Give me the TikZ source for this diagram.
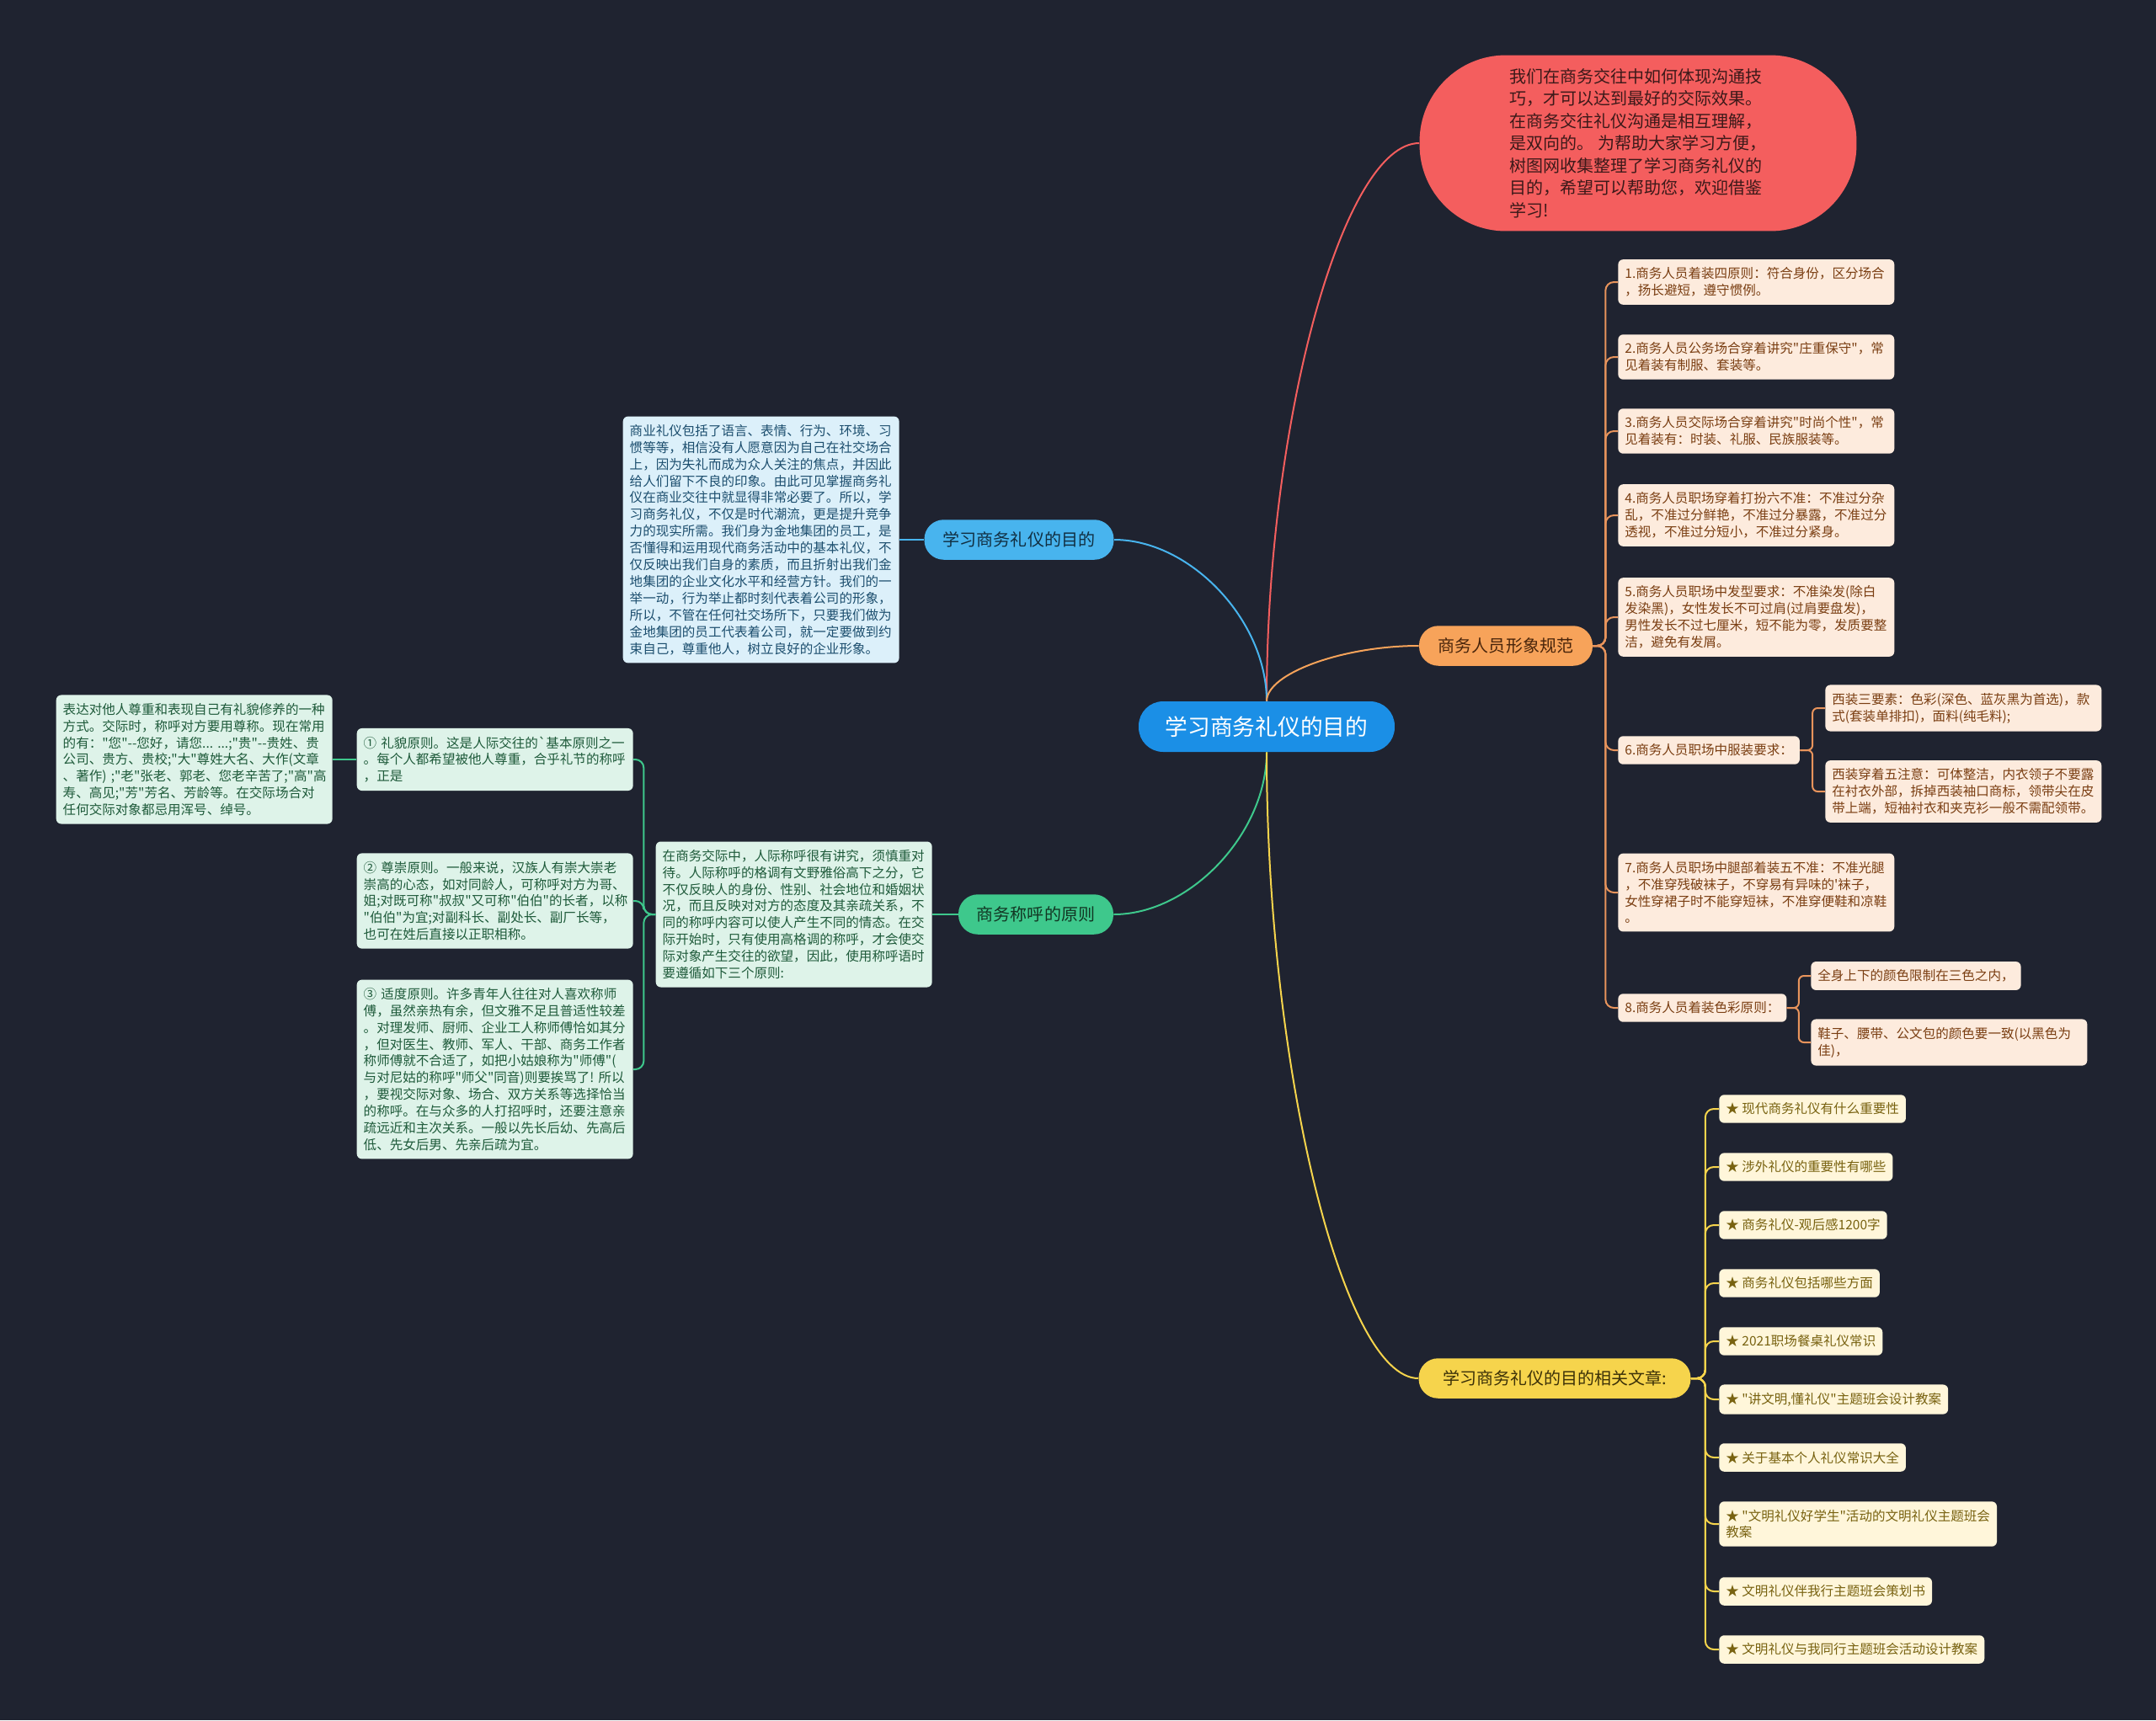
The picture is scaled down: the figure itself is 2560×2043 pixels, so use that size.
\documentclass[tikz,border=0pt]{standalone}
\usepackage{fontspec}
\setmainfont{Noto Sans CJK SC}[Ligatures=TeXOff]
\usetikzlibrary{calc}
\definecolor{BgDark}{RGB}{31,35,48}
\definecolor{RootBlue}{RGB}{27,143,230}
\definecolor{IntroRed}{RGB}{244,94,94}
\definecolor{InkRed}{RGB}{60,25,25}
\definecolor{TopicBlue}{RGB}{72,180,238}
\definecolor{TopicGreen}{RGB}{62,200,140}
\definecolor{TopicOrange}{RGB}{247,163,90}
\definecolor{TopicYellow}{RGB}{246,212,76}
\definecolor{NoteBlue}{RGB}{220,240,250}
\definecolor{InkBlue}{RGB}{28,78,110}
\definecolor{NoteGreen}{RGB}{222,243,233}
\definecolor{InkGreen}{RGB}{30,90,58}
\definecolor{NoteOrange}{RGB}{253,235,221}
\definecolor{InkOrange}{RGB}{122,62,18}
\definecolor{NoteYellow}{RGB}{255,246,218}
\definecolor{InkYellow}{RGB}{120,98,16}
\definecolor{OrangeLine}{RGB}{232,148,92}

\begin{document}
\begin{tikzpicture}[x=0.02cm,y=-0.02cm,
    rootnode/.style={fill=RootBlue,text=white,rounded corners=0.58cm,
                     minimum width=6.08cm,minimum height=1.2cm,
                     font=\fontsize{15.2}{18}\selectfont},
    topic/.style={rounded corners=0.46cm,minimum height=0.95cm,
                  font=\fontsize{11.4}{13.7}\selectfont},
    notebox/.style={rounded corners=0.12cm,inner xsep=0.16cm,inner ysep=0.19cm,
                    align=left,font=\fontsize{8.85}{11.34}\selectfont},
    widebox/.style={notebox,text width=6.24cm},
    bluebox/.style={widebox,fill=NoteBlue,text=InkBlue},
    greenbox/.style={widebox,fill=NoteGreen,text=InkGreen},
    orangebox/.style={notebox,fill=NoteOrange,text=InkOrange},
    yellowbox/.style={notebox,fill=NoteYellow,text=InkYellow},
    link/.style={line width=0.04cm}
  ]
  \useasboundingbox (0,0) rectangle (2560,2043);
  \fill[BgDark] (0,0) rectangle (2560,2043);

  % centre and main topics
  \node[rootnode] (root) at (1504,863) {学习商务礼仪的目的};
  \node[fill=IntroRed,text=InkRed,rounded corners=2.05cm,minimum width=10.38cm,
        minimum height=4.18cm,align=left,font=\fontsize{11.4}{15.1}\selectfont]
        (intro) at (1945,170)
        {我们在商务交往中如何体现沟通技\\
         巧，才可以达到最好的交际效果。\\
         在商务交往礼仪沟通是相互理解，\\
         是双向的。 为帮助大家学习方便，\\
         树图网收集整理了学习商务礼仪的\\
         目的，希望可以帮助您，欢迎借鉴\\
         学习!};
  \node[topic,fill=TopicBlue,text=InkBlue!60!black,minimum width=4.5cm]
        (b1) at (1210,641) {学习商务礼仪的目的};
  \node[topic,fill=TopicGreen,text=InkGreen!60!black,minimum width=3.68cm]
        (b2) at (1230,1086) {商务称呼的原则};
  \node[topic,fill=TopicOrange,text=InkOrange!60!black,minimum width=4.12cm]
        (b3) at (1788,767) {商务人员形象规范};
  \node[topic,fill=TopicYellow,text=InkYellow!50!black,minimum width=6.46cm]
        (b4) at (1846,1637) {学习商务礼仪的目的相关文章:};

  \draw[link,IntroRed] (root.north) .. controls ($(root.north)!0.5!(root.north |- intro.west)$)
        and ($(intro.west)!0.5!(root.north |- intro.west)$) .. (intro.west);
  \draw[link,TopicBlue] (root.north) .. controls ($(root.north)!0.5!(root.north |- b1.east)$)
        and ($(b1.east)!0.5!(root.north |- b1.east)$) .. (b1.east);
  \draw[link,TopicOrange] (root.north) .. controls ($(root.north)!0.5!(root.north |- b3.west)$)
        and ($(b3.west)!0.5!(root.north |- b3.west)$) .. (b3.west);
  \draw[link,TopicGreen] (root.south) .. controls ($(root.south)!0.5!(root.south |- b2.east)$)
        and ($(b2.east)!0.5!(root.south |- b2.east)$) .. (b2.east);
  \draw[link,TopicYellow] (root.south) .. controls ($(root.south)!0.5!(root.south |- b4.west)$)
        and ($(b4.west)!0.5!(root.south |- b4.west)$) .. (b4.west);

  % blue branch
  \node[bluebox,anchor=east] (purpose) at (1068,641)
        {商业礼仪包括了语言、表情、行为、环境、习\\
         惯等等，相信没有人愿意因为自己在社交场合\\
         上，因为失礼而成为众人关注的焦点，并因此\\
         给人们留下不良的印象。由此可见掌握商务礼\\
         仪在商业交往中就显得非常必要了。所以，学\\
         习商务礼仪，不仅是时代潮流，更是提升竞争\\
         力的现实所需。我们身为金地集团的员工，是\\
         否懂得和运用现代商务活动中的基本礼仪，不\\
         仅反映出我们自身的素质，而且折射出我们金\\
         地集团的企业文化水平和经营方针。我们的一\\
         举一动，行为举止都时刻代表着公司的形象，\\
         所以，不管在任何社交场所下，只要我们做为\\
         金地集团的员工代表着公司，就一定要做到约\\
         束自己，尊重他人，树立良好的企业形象。};
  \draw[link,TopicBlue] (b1.west) -- (purpose.east);

  % green branch
  \node[greenbox,anchor=east] (address) at (1107,1086)
        {在商务交际中，人际称呼很有讲究，须慎重对\\
         待。人际称呼的格调有文野雅俗高下之分，它\\
         不仅反映人的身份、性别、社会地位和婚姻状\\
         况，而且反映对对方的态度及其亲疏关系，不\\
         同的称呼内容可以使人产生不同的情态。在交\\
         际开始时，只有使用高格调的称呼，才会使交\\
         际对象产生交往的欲望，因此，使用称呼语时\\
         要遵循如下三个原则:};
  \node[greenbox,anchor=east] (polite) at (752,902)
        {①~礼貌原则。这是人际交往的`基本原则之一\\
         。每个人都希望被他人尊重，合乎礼节的称呼\\
         ，正是};
  \node[greenbox,anchor=east] (respect) at (752,1070)
        {②~尊崇原则。一般来说，汉族人有崇大崇老\\
         崇高的心态，如对同龄人，可称呼对方为哥、\\
         姐;对既可称"叔叔"又可称"伯伯"的长者，以称\\
         "伯伯"为宜;对副科长、副处长、副厂长等，\\
         也可在姓后直接以正职相称。};
  \node[greenbox,anchor=east] (proper) at (752,1270)
        {③~适度原则。许多青年人往往对人喜欢称师\\
         傅，虽然亲热有余，但文雅不足且普适性较差\\
         。对理发师、厨师、企业工人称师傅恰如其分\\
         ，但对医生、教师、军人、干部、商务工作者\\
         称师傅就不合适了，如把小姑娘称为"师傅"(\\
         与对尼姑的称呼"师父"同音)则要挨骂了!~所以\\
         ，要视交际对象、场合、双方关系等选择恰当\\
         的称呼。在与众多的人打招呼时，还要注意亲\\
         疏远近和主次关系。一般以先长后幼、先高后\\
         低、先女后男、先亲后疏为宜。};
  \node[greenbox,anchor=east] (honor) at (395,902)
        {表达对他人尊重和表现自己有礼貌修养的一种\\
         方式。交际时，称呼对方要用尊称。现在常用\\
         的有："您"--您好，请您...~...;"贵"--贵姓、贵\\
         公司、贵方、贵校;"大"尊姓大名、大作(文章\\
         、著作)~;"老"张老、郭老、您老辛苦了;"高"高\\
         寿、高见;"芳"芳名、芳龄等。在交际场合对\\
         任何交际对象都忌用浑号、绰号。};
  \draw[link,TopicGreen] (b2.west) -- (address.east);
  \draw[link,TopicGreen,rounded corners=0.2cm] (address.west) -- ++(-14,0) |- (polite.east);
  \draw[link,TopicGreen,rounded corners=0.2cm] (address.west) -- ++(-14,0) |- (respect.east);
  \draw[link,TopicGreen,rounded corners=0.2cm] (address.west) -- ++(-14,0) |- (proper.east);
  \draw[link,TopicGreen] (polite.west) -- (honor.east);

  % orange branch
  \node[orangebox,text width=6.24cm,anchor=west] (o1) at (1921,335)
        {1.商务人员着装四原则：符合身份，区分场合\\
         ，扬长避短，遵守惯例。};
  \node[orangebox,text width=6.24cm,anchor=west] (o2) at (1921,424)
        {2.商务人员公务场合穿着讲究"庄重保守"，常\\
         见着装有制服、套装等。};
  \node[orangebox,text width=6.24cm,anchor=west] (o3) at (1921,512)
        {3.商务人员交际场合穿着讲究"时尚个性"，常\\
         见着装有：时装、礼服、民族服装等。};
  \node[orangebox,text width=6.24cm,anchor=west] (o4) at (1921,612)
        {4.商务人员职场穿着打扮六不准：不准过分杂\\
         乱，不准过分鲜艳，不准过分暴露，不准过分\\
         透视，不准过分短小，不准过分紧身。};
  \node[orangebox,text width=6.24cm,anchor=west] (o5) at (1921,733)
        {5.商务人员职场中发型要求：不准染发(除白\\
         发染黑)，女性发长不可过肩(过肩要盘发)，\\
         男性发长不过七厘米，短不能为零，发质要整\\
         洁，避免有发屑。};
  \node[orangebox,anchor=west] (o6) at (1921,891) {6.商务人员职场中服装要求：};
  \node[orangebox,text width=6.24cm,anchor=west] (o6a) at (2167,841)
        {西装三要素：色彩(深色、蓝灰黑为首选)，款\\
         式(套装单排扣)，面料(纯毛料);};
  \node[orangebox,text width=6.24cm,anchor=west] (o6b) at (2167,940)
        {西装穿着五注意：可体整洁，内衣领子不要露\\
         在衬衣外部，拆掉西装袖口商标，领带尖在皮\\
         带上端，短袖衬衣和夹克衫一般不需配领带。};
  \node[orangebox,text width=6.24cm,anchor=west] (o7) at (1921,1060)
        {7.商务人员职场中腿部着装五不准：不准光腿\\
         ，不准穿残破袜子，不穿易有异味的'袜子，\\
         女性穿裙子时不能穿短袜，不准穿便鞋和凉鞋\\
         。};
  \node[orangebox,anchor=west] (o8) at (1921,1197) {8.商务人员着装色彩原则：};
  \node[orangebox,anchor=west] (o8a) at (2150,1159) {全身上下的颜色限制在三色之内，};
  \node[orangebox,text width=6.24cm,anchor=west] (o8b) at (2150,1238)
        {鞋子、腰带、公文包的颜色要一致(以黑色为\\
         佳)，};
  \draw[link,OrangeLine,rounded corners=0.2cm] (b3.east) -- ++(15,0) |- (o1.west);
  \draw[link,OrangeLine,rounded corners=0.2cm] (b3.east) -- ++(15,0) |- (o2.west);
  \draw[link,OrangeLine,rounded corners=0.2cm] (b3.east) -- ++(15,0) |- (o3.west);
  \draw[link,OrangeLine,rounded corners=0.2cm] (b3.east) -- ++(15,0) |- (o4.west);
  \draw[link,OrangeLine,rounded corners=0.2cm] (b3.east) -- ++(15,0) |- (o5.west);
  \draw[link,OrangeLine,rounded corners=0.2cm] (b3.east) -- ++(15,0) |- (o6.west);
  \draw[link,OrangeLine,rounded corners=0.2cm] (b3.east) -- ++(15,0) |- (o7.west);
  \draw[link,OrangeLine,rounded corners=0.2cm] (b3.east) -- ++(15,0) |- (o8.west);
  \draw[link,OrangeLine,rounded corners=0.12cm] (o6.east) -- ($(o6.east)!0.5!(o6.east -| o6a.west)$) |- (o6a.west);
  \draw[link,OrangeLine,rounded corners=0.12cm] (o6.east) -- ($(o6.east)!0.5!(o6.east -| o6a.west)$) |- (o6b.west);
  \draw[link,OrangeLine,rounded corners=0.12cm] (o8.east) -- ($(o8.east)!0.5!(o8.east -| o8a.west)$) |- (o8a.west);
  \draw[link,OrangeLine,rounded corners=0.12cm] (o8.east) -- ($(o8.east)!0.5!(o8.east -| o8a.west)$) |- (o8b.west);

  % yellow branch
  \node[yellowbox,anchor=west] (y1) at (2041,1317) {★ 现代商务礼仪有什么重要性};
  \node[yellowbox,anchor=west] (y2) at (2041,1386) {★ 涉外礼仪的重要性有哪些};
  \node[yellowbox,anchor=west] (y3) at (2041,1455) {★ 商务礼仪-观后感1200字};
  \node[yellowbox,anchor=west] (y4) at (2041,1524) {★ 商务礼仪包括哪些方面};
  \node[yellowbox,anchor=west] (y5) at (2041,1593) {★ 2021职场餐桌礼仪常识};
  \node[yellowbox,anchor=west] (y6) at (2041,1662) {★ "讲文明,懂礼仪"主题班会设计教案};
  \node[yellowbox,anchor=west] (y7) at (2041,1731) {★ 关于基本个人礼仪常识大全};
  \node[yellowbox,anchor=west] (y8) at (2041,1810)
        {★ "文明礼仪好学生"活动的文明礼仪主题班会\\教案};
  \node[yellowbox,anchor=west] (y9) at (2041,1890) {★ 文明礼仪伴我行主题班会策划书};
  \node[yellowbox,anchor=west] (y10) at (2041,1959) {★ 文明礼仪与我同行主题班会活动设计教案};
  \draw[link,TopicYellow,rounded corners=0.2cm] (b4.east) -- ++(17,0) |- (y1.west);
  \draw[link,TopicYellow,rounded corners=0.2cm] (b4.east) -- ++(17,0) |- (y2.west);
  \draw[link,TopicYellow,rounded corners=0.2cm] (b4.east) -- ++(17,0) |- (y3.west);
  \draw[link,TopicYellow,rounded corners=0.2cm] (b4.east) -- ++(17,0) |- (y4.west);
  \draw[link,TopicYellow,rounded corners=0.2cm] (b4.east) -- ++(17,0) |- (y5.west);
  \draw[link,TopicYellow,rounded corners=0.2cm] (b4.east) -- ++(17,0) |- (y6.west);
  \draw[link,TopicYellow,rounded corners=0.2cm] (b4.east) -- ++(17,0) |- (y7.west);
  \draw[link,TopicYellow,rounded corners=0.2cm] (b4.east) -- ++(17,0) |- (y8.west);
  \draw[link,TopicYellow,rounded corners=0.2cm] (b4.east) -- ++(17,0) |- (y9.west);
  \draw[link,TopicYellow,rounded corners=0.2cm] (b4.east) -- ++(17,0) |- (y10.west);
\end{tikzpicture}
\end{document}
